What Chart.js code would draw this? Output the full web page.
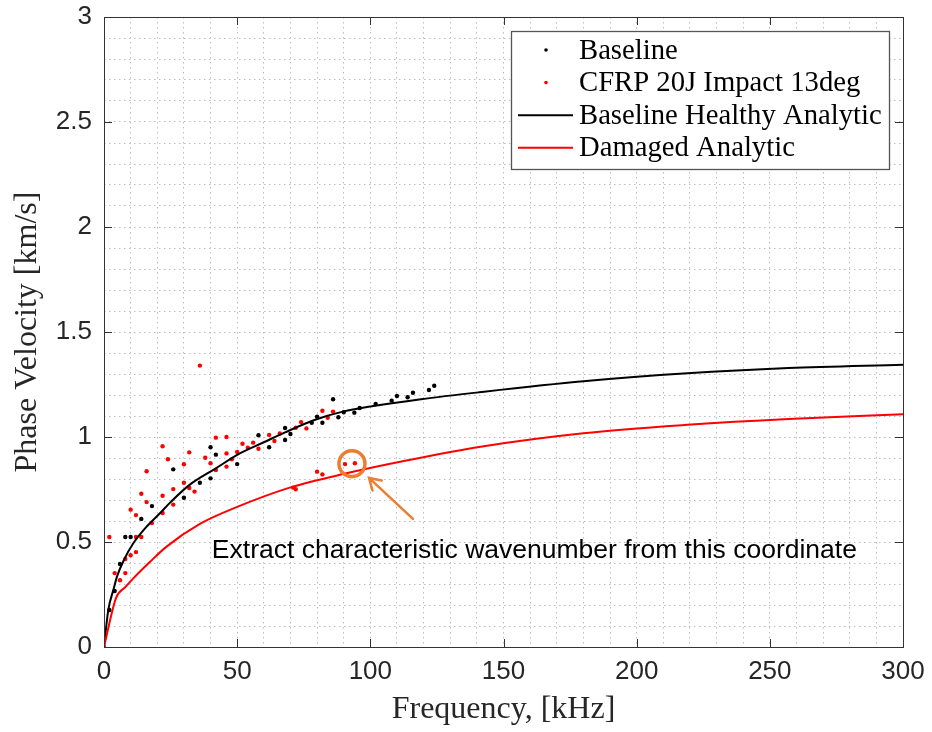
<!DOCTYPE html>
<html><head><meta charset="utf-8">
<script src="https://cdn.jsdelivr.net/npm/chart.js@4.4.1/dist/chart.umd.min.js"></script>
<style>html,body{margin:0;padding:0;background:#fff;overflow:hidden}#wrap{width:932px;height:732px}</style>
</head><body><div id="wrap"><canvas id="c" width="932" height="732"></canvas></div>
<script>
// ---------- data ----------
const xMajorTicks = [0, 50, 100, 150, 200, 250, 300];
const yMajorTicks = [0, 0.5, 1, 1.5, 2, 2.5, 3];

const baselineFreq = [2,4,6,8,10,14,18,26,30,36,40,40,42,50,58,62,68,68,70,78,80,82,86,88,90,94,96,102,108,110,114,116,122,124];
const baselineVel  = [0.176,0.267,0.395,0.524,0.524,0.61,0.671,0.846,0.711,0.782,0.951,0.803,0.916,0.871,1.008,0.951,1.043,0.986,1.014,1.068,1.097,1.068,1.180,1.094,1.118,1.116,1.138,1.157,1.173,1.195,1.189,1.211,1.224,1.244];

const damagedFreq = [0,2,4,6,8,8,10,10,12,12,12,14,14,16,16,18,22,22,22,24,26,26,30,30,32,32,34,36,38,40,42,42,46,46,46,48,50,52,54,56,58,62,64,66,71,72,72,74,76,80,82,82,84,86,90.5,94.2];
const damagedVel  = [0,0.524,0.352,0.318,0.419,0.352,0.654,0.437,0.628,0.524,0.452,0.730,0.524,0.837,0.690,0.590,0.956,0.720,0.638,0.894,0.752,0.678,0.870,0.782,0.927,0.757,0.740,1.340,0.901,0.875,0.997,0.843,1.000,0.922,0.859,0.894,0.929,0.968,0.949,0.973,0.944,1.010,0.981,1.017,0.759,1.044,0.751,1.071,1.041,0.835,1.125,0.822,1.092,1.121,0.871,0.875];

const healthyCurveFreq = [0,1.6,3.5,5,7.5,11,16,21,25,32,42,51,60,68,79,90,100,119,141,180,219,257,300];
const healthyCurveVel  = [0,0.176,0.271,0.34,0.415,0.494,0.573,0.637,0.69,0.771,0.851,0.922,0.975,1.022,1.081,1.122,1.145,1.180,1.213,1.265,1.303,1.328,1.344];

const damagedCurveFreq = [0,4.5,8,11,17.3,23.5,36,50,70,91,114,142,180,219,257,300];
const damagedCurveVel  = [0,0.233,0.285,0.327,0.406,0.478,0.586,0.667,0.76,0.827,0.889,0.955,1.018,1.058,1.086,1.108];

const seriesLabels = ['Baseline','CFRP 20J Impact 13deg','Baseline Healthy Analytic','Damaged Analytic'];
const annotationText = 'Extract characteristic wavenumber from this coordinate';
const markedPoint = {x: 93.1, y: 0.873};
const arrowFrom = {x: 116, y: 0.61};
const arrowTo = {x: 99.5, y: 0.805};
const textAnchor = {x: 40.5, y: 0.457};

// ---------- helpers ----------
const pts = (xs, ys) => xs.map((x, i) => ({x, y: ys[i]}));
const isMajor = (v, list) => list.some(t => Math.abs(t - v) < 1e-6);
const AXIS = '#333333';
const ORANGE = '#ED7D31';

const decorPlugin = {
  id: 'decor',
  afterDatasetsDraw(chart) {
    const {ctx, chartArea: a, scales: {x, y}} = chart;
    ctx.save();
    ctx.strokeStyle = AXIS; ctx.lineWidth = 1; ctx.setLineDash([]);
    ctx.strokeRect(Math.round(a.left) + 0.5, Math.round(a.top) + 0.5, Math.round(a.right - a.left), Math.round(a.bottom - a.top));
    const tl = 8;
    ctx.beginPath();
    xMajorTicks.forEach(v => {
      const px = Math.round(x.getPixelForValue(v)) + 0.5;
      ctx.moveTo(px, a.bottom); ctx.lineTo(px, a.bottom - tl);
      ctx.moveTo(px, a.top); ctx.lineTo(px, a.top + tl);
    });
    yMajorTicks.forEach(v => {
      const py = Math.round(y.getPixelForValue(v)) + 0.5;
      ctx.moveTo(a.left, py); ctx.lineTo(a.left + tl, py);
      ctx.moveTo(a.right, py); ctx.lineTo(a.right - tl, py);
    });
    ctx.stroke();

    const cx = x.getPixelForValue(markedPoint.x), cy = y.getPixelForValue(markedPoint.y);
    ctx.strokeStyle = ORANGE; ctx.lineWidth = 3.5;
    ctx.beginPath(); ctx.arc(cx, cy, 13, 0, Math.PI * 2); ctx.stroke();
    const x0 = x.getPixelForValue(arrowFrom.x), y0 = y.getPixelForValue(arrowFrom.y);
    const x1 = x.getPixelForValue(arrowTo.x), y1 = y.getPixelForValue(arrowTo.y);
    ctx.lineWidth = 2.5; ctx.lineCap = 'round';
    ctx.beginPath(); ctx.moveTo(x0, y0); ctx.lineTo(x1, y1);
    const ang = Math.atan2(y1 - y0, x1 - x0), hl = 13, ha = 0.55;
    ctx.moveTo(x1 - hl * Math.cos(ang - ha), y1 - hl * Math.sin(ang - ha));
    ctx.lineTo(x1, y1);
    ctx.lineTo(x1 - hl * Math.cos(ang + ha), y1 - hl * Math.sin(ang + ha));
    ctx.stroke();
    ctx.fillStyle = '#000';
    ctx.font = '26.5px "Liberation Sans", Arial, sans-serif';
    ctx.textBaseline = 'middle'; ctx.textAlign = 'left';
    ctx.fillText(annotationText, x.getPixelForValue(textAnchor.x), y.getPixelForValue(textAnchor.y));

    const bw = 378, bh = 138;
    const bx = a.right - 14 - bw, by = a.top + 14;
    ctx.fillStyle = '#fff'; ctx.fillRect(bx, by, bw, bh);
    ctx.strokeStyle = '#555'; ctx.lineWidth = 1.3; ctx.lineCap = 'butt';
    ctx.strokeRect(bx + 0.5, by + 0.5, bw, bh);
    ctx.font = '28.7px "Liberation Serif", "Times New Roman", serif';
    ctx.textBaseline = 'middle';
    chart.data.datasets.forEach((ds, i) => {
      const ry = by + 19 + i * 32.6;
      if (ds.showLine) {
        ctx.strokeStyle = ds.borderColor; ctx.lineWidth = 2;
        ctx.beginPath(); ctx.moveTo(bx + 7, ry); ctx.lineTo(bx + 62, ry); ctx.stroke();
      } else {
        ctx.fillStyle = ds.pointBackgroundColor;
        ctx.beginPath(); ctx.arc(bx + 35, ry, 1.8, 0, Math.PI * 2); ctx.fill();
      }
      ctx.fillStyle = '#000';
      ctx.fillText(ds.label, bx + 68, ry + 1);
    });
    ctx.restore();
  }
};

new Chart(document.getElementById('c'), {
  type: 'scatter',
  data: {
    datasets: [
      {label: seriesLabels[0], data: pts(baselineFreq, baselineVel), showLine: false,
       pointRadius: 2.2, pointBorderWidth: 0, pointBackgroundColor: '#000000', borderColor: '#000000', order: 4},
      {label: seriesLabels[1], data: pts(damagedFreq, damagedVel), showLine: false,
       pointRadius: 2.2, pointBorderWidth: 0, pointBackgroundColor: '#ff0000', borderColor: '#ff0000', order: 3},
      {label: seriesLabels[2], data: pts(healthyCurveFreq, healthyCurveVel), showLine: true,
       pointRadius: 0, borderColor: '#000000', borderWidth: 2, cubicInterpolationMode: 'monotone', order: 2},
      {label: seriesLabels[3], data: pts(damagedCurveFreq, damagedCurveVel), showLine: true,
       pointRadius: 0, borderColor: '#ff0000', borderWidth: 2, cubicInterpolationMode: 'monotone', order: 1}
    ]
  },
  options: {
    responsive: false, animation: false, devicePixelRatio: 1,
    layout: {padding: {left: 0, right: 29, top: 17, bottom: 0}},
    plugins: {legend: {display: false}, tooltip: {enabled: false}},
    scales: {
      x: {
        type: 'linear', min: 0, max: 300,
        afterFit: s => { s.height = 85; s.paddingLeft = 0; s.paddingRight = 0; },
        ticks: {stepSize: 10, autoSkip: false, maxRotation: 0, padding: 9, color: '#262626',
                font: {family: '"Liberation Sans", Arial, sans-serif', size: 26},
                callback: v => isMajor(v, xMajorTicks) ? String(Math.round(v)) : ''},
        grid: {color: '#bdbdbd', lineWidth: 1, drawTicks: false},
        border: {display: false, dash: [1.5, 3.5]},
        title: {display: true, text: 'Frequency, [kHz]', color: '#262626',
                font: {family: '"Liberation Serif", "Times New Roman", serif', size: 32, lineHeight: 1.2},
                padding: {top: 0, bottom: 3}}
      },
      y: {
        type: 'linear', min: 0, max: 3,
        afterFit: s => { s.width = 104; s.paddingTop = 0; s.paddingBottom = 0; },
        ticks: {stepSize: 0.1, autoSkip: false, padding: 12, color: '#262626',
                font: {family: '"Liberation Sans", Arial, sans-serif', size: 26},
                callback: v => isMajor(v, yMajorTicks) ? String(Math.round(v * 10) / 10) : ''},
        grid: {color: '#bdbdbd', lineWidth: 1, drawTicks: false},
        border: {display: false, dash: [1.5, 3.5]},
        title: {display: true, text: 'Phase Velocity [km/s]', color: '#262626',
                font: {family: '"Liberation Serif", "Times New Roman", serif', size: 32, lineHeight: 1.2},
                padding: {top: 8, bottom: 0}}
      }
    }
  },
  plugins: [decorPlugin]
});
</script>
</body></html>
